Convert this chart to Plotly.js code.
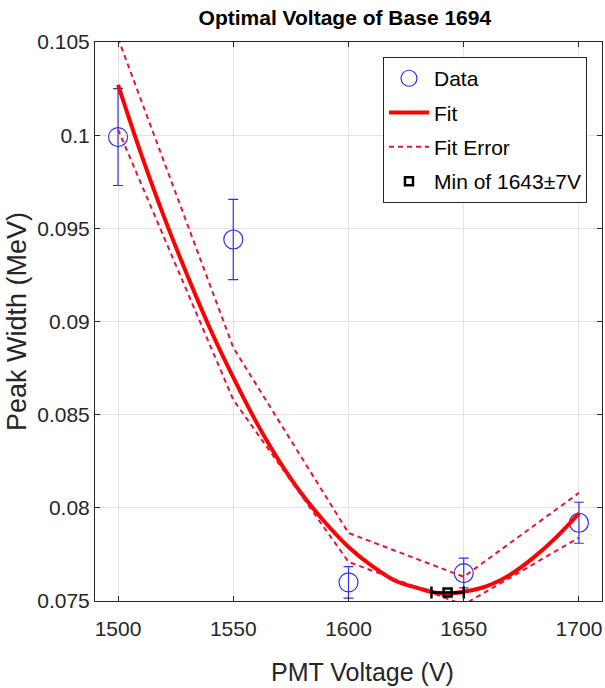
<!DOCTYPE html>
<html>
<head>
<meta charset="utf-8">
<script src="https://cdn.plot.ly/plotly-3.0.1.min.js"></script>
<style>html,body{margin:0;padding:0;background:#fff;}#chart{width:605px;height:688px;}</style>
</head>
<body>
<div id="chart"></div>
<script>
// Measured data
const dataV = [1500, 1550, 1600, 1650, 1700];
const dataW = [0.0999, 0.0944, 0.0760, 0.0765, 0.0792];
const dataErr = [0.0026, 0.00215, 0.00085, 0.0008, 0.0011];

// Fit curve (every 10 V)
const fitV = [1500,1510,1520,1530,1540,1550,1560,1570,1580,1590,1600,1610,1620,1630,1640,1650,1660,1670,1680,1690,1700];
const fitW = [0.1027,0.0990,0.0956,0.0925,0.0896,0.0870,0.0846,0.0825,0.0807,0.0792,0.0779,0.0769,0.0761,0.0757,0.0754,0.0755,0.0758,0.0764,0.0773,0.0784,0.0797];

// Fit error bounds
const errV = [1500, 1550, 1600, 1650, 1700];
const errUpper = [0.1052, 0.0886, 0.07865, 0.0763, 0.0808];
const errLower = [0.1003, 0.0858, 0.0771, 0.0748, 0.0784];

// Minimum
const minV = [1643];
const minW = [0.07545];
const minErr = [7];

// Ticks
const xTicks = [1500, 1550, 1600, 1650, 1700];
const xTickText = ['1500', '1550', '1600', '1650', '1700'];
const yTicks = [0.075, 0.08, 0.085, 0.09, 0.095, 0.1, 0.105];
const yTickText = ['0.075', '0.08', '0.085', '0.09', '0.095', '0.1', '0.105'];

const font = '"Liberation Sans", Arial, sans-serif';
const errColor = '#e3163a';
const axisColor = '#262626';

const traces = [
  {
    x: dataV, y: dataW, type: 'scatter', mode: 'markers', name: 'Data', legendgroup: 'a',
    marker: {symbol: 'circle-open', size: 19, color: '#3333e6', line: {width: 1.2, color: '#3333e6'}},
    error_y: {type: 'data', array: dataErr, visible: true, color: '#3333e6', thickness: 1.2, width: 5}
  },
  {
    x: fitV, y: fitW, type: 'scatter', mode: 'lines', name: 'Fit', legendgroup: 'b',
    line: {color: '#ff0000', width: 4, shape: 'spline'}
  },
  {
    x: errV, y: errUpper, type: 'scatter', mode: 'lines', name: 'Fit Error', legendgroup: 'c',
    line: {color: errColor, width: 2, dash: '5px,4px'}
  },
  {
    x: errV, y: errLower, type: 'scatter', mode: 'lines', name: 'Fit Error lower', legendgroup: 'c', showlegend: false,
    line: {color: errColor, width: 2, dash: '5px,4px'}
  },
  {
    x: minV, y: minW, type: 'scatter', mode: 'markers', name: 'Min of 1643\u00b17V', legendgroup: 'd',
    marker: {symbol: 'square-open', size: 8, color: '#000', line: {width: 2.5, color: '#000'}},
    error_x: {type: 'data', array: minErr, visible: true, color: '#000', thickness: 2.5, width: 6}
  }
];

const layout = {
  width: 605, height: 688,
  margin: {l: 95, r: 3, t: 42, b: 87},
  paper_bgcolor: '#fff', plot_bgcolor: '#fff',
  title: {text: '<b>Optimal Voltage of Base 1694</b>', font: {family: font, size: 21, color: '#000'},
          x: 0.570, xanchor: 'center', y: 0.975, yanchor: 'middle'},
  xaxis: {
    range: [1490, 1710], tickvals: xTicks, ticktext: xTickText,
    showline: true, linecolor: axisColor, linewidth: 1, mirror: 'ticks',
    ticks: 'inside', ticklen: 5, tickcolor: axisColor,
    showgrid: true, gridcolor: '#e3e3e3', gridwidth: 1, zeroline: false,
    tickfont: {family: font, size: 21, color: axisColor},
    ticklabeloverflow: 'allow', ticklabelstandoff: 9
  },
  yaxis: {
    range: [0.075, 0.105], tickvals: yTicks, ticktext: yTickText,
    showline: true, linecolor: axisColor, linewidth: 1, mirror: 'ticks',
    ticks: 'inside', ticklen: 5, tickcolor: axisColor,
    showgrid: true, gridcolor: '#e3e3e3', gridwidth: 1, zeroline: false,
    tickfont: {family: font, size: 21, color: axisColor},
    ticklabeloverflow: 'allow',
    title: {text: 'Peak Width (MeV)', font: {family: font, size: 27, color: axisColor}, standoff: 2}
  },
  annotations: [
    {text: 'PMT Voltage (V)', xref: 'paper', yref: 'paper', x: 0.527, y: -0.127,
     xanchor: 'center', yanchor: 'middle', showarrow: false,
     font: {family: font, size: 25, color: axisColor}}
  ],
  showlegend: true,
  legend: {
    x: 0.568, y: 0.973, xanchor: 'left', yanchor: 'top',
    bgcolor: '#fff', bordercolor: axisColor, borderwidth: 1,
    font: {family: font, size: 21, color: '#000'},
    traceorder: 'grouped', tracegroupgap: 4, itemwidth: 40
  }
};

Plotly.newPlot('chart', traces, layout, {displayModeBar: false, staticPlot: true});
</script>
</body>
</html>
